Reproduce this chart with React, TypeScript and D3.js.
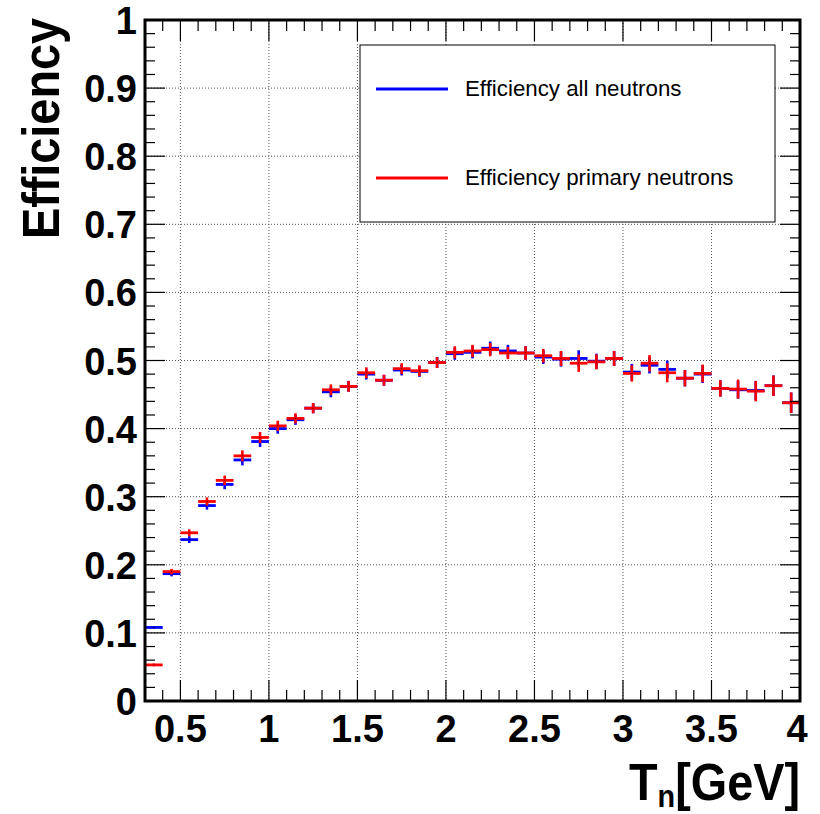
import React from "react";
import * as d3 from "d3";

const binCenters = [0.35, 0.45, 0.55, 0.65, 0.75, 0.85, 0.95, 1.05, 1.15, 1.25, 1.35, 1.45, 1.55, 1.65, 1.75, 1.85, 1.95, 2.05, 2.15, 2.25, 2.35, 2.45, 2.55, 2.65, 2.75, 2.85, 2.95, 3.05, 3.15, 3.25, 3.35, 3.45, 3.55, 3.65, 3.75, 3.85, 3.95];
const binWidth = 0.1;

const effAll = [0.108, 0.187, 0.237, 0.287, 0.318, 0.354, 0.381, 0.400, 0.413, 0.430, 0.454, 0.462, 0.480, 0.471, 0.486, 0.484, 0.497, 0.510, 0.512, 0.518, 0.514, 0.511, 0.505, 0.502, 0.503, 0.499, 0.503, 0.483, 0.493, 0.487, 0.474, 0.480, 0.459, 0.457, 0.456, 0.463, 0.438];
const errAll = [0.002, 0.004, 0.005, 0.006, 0.007, 0.008, 0.008, 0.0075, 0.0075, 0.0075, 0.008, 0.008, 0.008, 0.008, 0.008, 0.008, 0.008, 0.009, 0.009, 0.0098, 0.009, 0.010, 0.010, 0.011, 0.012, 0.011, 0.011, 0.012, 0.012, 0.013, 0.012, 0.013, 0.012, 0.013, 0.014, 0.015, 0.015];

const effPrimary = [0.053, 0.190, 0.247, 0.293, 0.324, 0.360, 0.387, 0.404, 0.415, 0.430, 0.457, 0.462, 0.482, 0.471, 0.488, 0.485, 0.497, 0.512, 0.514, 0.516, 0.511, 0.511, 0.507, 0.503, 0.496, 0.498, 0.503, 0.481, 0.496, 0.482, 0.474, 0.481, 0.459, 0.458, 0.455, 0.463, 0.438];
const errPrimary = [0.002, 0.004, 0.005, 0.006, 0.007, 0.008, 0.008, 0.0075, 0.0075, 0.0075, 0.008, 0.008, 0.008, 0.008, 0.008, 0.008, 0.008, 0.009, 0.009, 0.0098, 0.009, 0.010, 0.010, 0.011, 0.0127, 0.011, 0.011, 0.012, 0.012, 0.014, 0.012, 0.013, 0.012, 0.014, 0.015, 0.015, 0.015];

const xMajorTicks = [0.5, 1, 1.5, 2, 2.5, 3, 3.5, 4];
const xTickLabels = ["0.5", "1", "1.5", "2", "2.5", "3", "3.5", "4"];
const yMajorTicks = [0, 0.1, 0.2, 0.3, 0.4, 0.5, 0.6, 0.7, 0.8, 0.9, 1];
const yTickLabels = ["0", "0.1", "0.2", "0.3", "0.4", "0.5", "0.6", "0.7", "0.8", "0.9", "1"];

const seriesNames = ["Efficiency all neutrons", "Efficiency primary neutrons"];
const seriesColors = ["#0000ff", "#ff0000"];

const W = 820, H = 814;
const L = 145, R = 800, T = 20, B = 701;

export default function App() {
  const x = d3.scaleLinear().domain([0.3, 4]).range([L, R]);
  const y = d3.scaleLinear().domain([0, 1]).range([B, T]);

  const xMinor = d3.range(3, 41).map((i) => i / 10);
  const yMinor = d3.range(0, 51).map((i) => i / 50);

  const series = [
    { vals: effAll, errs: errAll, color: seriesColors[0] },
    { vals: effPrimary, errs: errPrimary, color: seriesColors[1] },
  ];

  const font = "'Liberation Sans', Arial, Helvetica, sans-serif";

  return (
    <svg width={W} height={H} style={{ position: "absolute", left: 0, top: 0, background: "#fff" }} fontFamily={font}>
      <rect x={0} y={0} width={W} height={H} fill="#fff" />
      {/* grid */}
      <g stroke="#555" strokeWidth={1} strokeDasharray="1,2">
        {xMajorTicks.filter((v) => v < 4).map((v) => (
          <line key={"gx" + v} x1={x(v)} x2={x(v)} y1={T} y2={B} />
        ))}
        {yMajorTicks.filter((v) => v > 0 && v < 1).map((v) => (
          <line key={"gy" + v} x1={L} x2={R} y1={y(v)} y2={y(v)} />
        ))}
      </g>
      {/* data */}
      <g>
        {series.map((s, si) => (
          <g key={si}>
            {binCenters.map((c, i) => {
              const v = s.vals[i];
              const e = s.errs[i];
              const x0 = Math.max(x(c - binWidth / 2), L);
              const x1 = Math.min(x(c + binWidth / 2), R);
              return (
                <g key={i}>
                  <line x1={x0} x2={x1} y1={y(v)} y2={y(v)} stroke={s.color} strokeWidth={2.8} />
                  <line x1={x(c)} x2={x(c)} y1={y(v - e)} y2={y(v + e)} stroke={s.color} strokeWidth={2.6} />
                  <rect x={x(c) - 0.5} y={y(v) - 0.5} width={1} height={1} fill="#400" />
                </g>
              );
            })}
          </g>
        ))}
      </g>
      {/* legend */}
      <g>
        <rect x={360} y={45} width={415} height={177} fill="#fff" stroke="#000" strokeWidth={1} />
        {seriesNames.map((n, i) => {
          const ly = i === 0 ? 89 : 178;
          return (
            <g key={n}>
              <line x1={376} x2={448} y1={ly} y2={ly} stroke={seriesColors[i]} strokeWidth={2.8} />
              <text x={465} y={ly + 7} fontSize={22.3} fill="#000">{n}</text>
            </g>
          );
        })}
      </g>
      {/* ticks */}
      <g stroke="#000" strokeWidth={1.2}>
        {xMinor.map((v) => {
          const major = xMajorTicks.some((m) => Math.abs(m - v) < 1e-6);
          const len = major ? 21 : 11;
          return (
            <g key={"xt" + v}>
              <line x1={x(v)} x2={x(v)} y1={B} y2={B - len} />
              <line x1={x(v)} x2={x(v)} y1={T} y2={T + len} />
            </g>
          );
        })}
        {yMinor.map((v) => {
          const major = yMajorTicks.some((m) => Math.abs(m - v) < 1e-6);
          const len = major ? 20 : 10;
          return (
            <g key={"yt" + v}>
              <line x1={L} x2={L + len} y1={y(v)} y2={y(v)} />
              <line x1={R} x2={R - len} y1={y(v)} y2={y(v)} />
            </g>
          );
        })}
      </g>
      {/* frame */}
      <rect x={L} y={T} width={R - L} height={B - T} fill="none" stroke="#000" strokeWidth={3} />
      {/* tick labels */}
      <g fontWeight="bold" fontSize={38} fill="#000">
        {yMajorTicks.map((v, i) => (
          <text key={"yl" + v} x={137} y={y(v) + 14} textAnchor="end">{yTickLabels[i]}</text>
        ))}
        {xMajorTicks.map((v, i) => (
          <text key={"xl" + v} x={v === 4 ? x(v) - 3 : x(v)} y={742} textAnchor="middle">{xTickLabels[i]}</text>
        ))}
      </g>
      {/* axis titles */}
      <text transform={`translate(800,800) scale(0.9,1)`} textAnchor="end" fontWeight="bold" fontSize={52} fill="#000">
        <tspan>T</tspan>
        <tspan fontSize={32} dy={7}>n</tspan>
        <tspan dy={-7}>[GeV]</tspan>
      </text>
      <text transform={`translate(59,18) rotate(-90) scale(0.9,1)`} textAnchor="end" fontWeight="bold" fontSize={52} fill="#000">
        Efficiency
      </text>
    </svg>
  );
}
